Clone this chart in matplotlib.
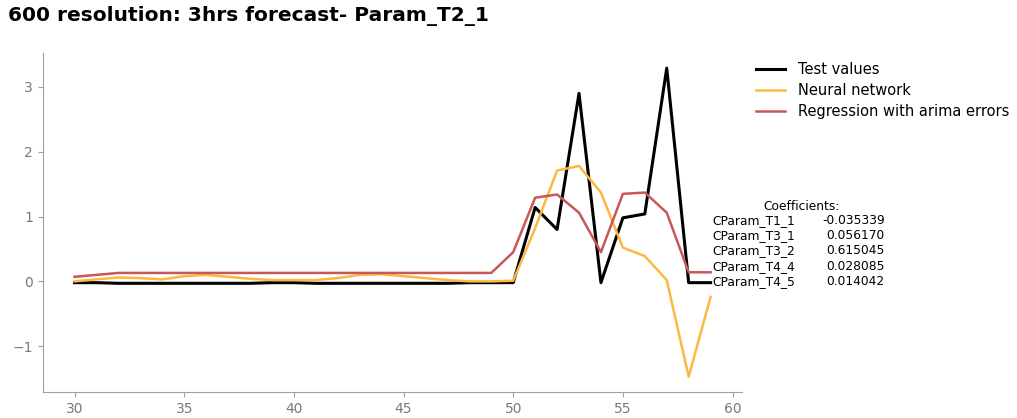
import numpy as np
import matplotlib
matplotlib.use("Agg")
from matplotlib import pyplot as plt

hours = list(range(30, 60))
test_values = [-0.02, -0.02, -0.03, -0.03, -0.03, -0.03, -0.03, -0.03, -0.03, -0.02,
               -0.02, -0.03, -0.03, -0.03, -0.03, -0.03, -0.03, -0.03, -0.02, -0.02,
               -0.02, 1.14, 0.80, 2.90, -0.02, 0.98, 1.04, 3.29, -0.02, -0.02]
neural_net = [0.00, 0.03, 0.06, 0.05, 0.03, 0.08, 0.10, 0.07, 0.04, 0.02,
              0.02, 0.02, 0.05, 0.10, 0.11, 0.08, 0.05, 0.02, 0.00, 0.00,
              0.01, 0.82, 1.71, 1.78, 1.37, 0.52, 0.39, 0.02, -1.47, -0.24]
arima = [0.07, 0.10, 0.13, 0.13, 0.13, 0.13, 0.13, 0.13, 0.13, 0.13,
         0.13, 0.13, 0.13, 0.13, 0.13, 0.13, 0.13, 0.13, 0.13, 0.13,
         0.45, 1.29, 1.34, 1.06, 0.45, 1.35, 1.37, 1.06, 0.14, 0.14]

coef_names = ['CParam_T1_1', 'CParam_T3_1', 'CParam_T3_2', 'CParam_T4_4', 'CParam_T4_5']
coef_values = ['-0.035339', '0.056170', '0.615045', '0.028085', '0.014042']

fig = plt.figure(figsize=(10.17, 4.18), dpi=100)
ax = fig.add_axes([0.042, 0.062, 0.688, 0.812])

ax.plot(hours, test_values, color='black', lw=2.2, label='Test values')
ax.plot(hours, neural_net, color='#fdb844', lw=1.8, label='Neural network')
ax.plot(hours, arima, color='#c85858', lw=1.8, label='Regression with arima errors')

ax.spines['top'].set_visible(False)
ax.spines['right'].set_visible(False)
for s in ('left', 'bottom'):
    ax.spines[s].set_color('#a0a0a0')
ax.tick_params(colors='#a0a0a0', labelsize=10)
for lab in ax.get_xticklabels() + ax.get_yticklabels():
    lab.set_color('#7a7a7a')
ax.set_yticks([-1, 0, 1, 2, 3])
ax.set_yticklabels(['\u22121', '0', '1', '2', '3'])

ax.legend(loc='upper left', bbox_to_anchor=(1.0, 1.01), frameon=False,
          fontsize=10.5, labelspacing=0.4, handletextpad=0.9)

fig.text(0.008, 0.985, '600 resolution: 3hrs forecast- Param_T2_1',
         fontsize=14.5, fontweight='bold', va='top', ha='left')

fig.text(0.788, 0.505, 'Coefficients:', fontsize=8.8, ha='center', va='center')
for i, (n, v) in enumerate(zip(coef_names, coef_values)):
    y = 0.472 - i * 0.0362
    fig.text(0.700, y, n, fontsize=8.8, ha='left', va='center')
    fig.text(0.870, y, v, fontsize=8.8, ha='right', va='center')

fig.savefig('out.png', dpi=100)
